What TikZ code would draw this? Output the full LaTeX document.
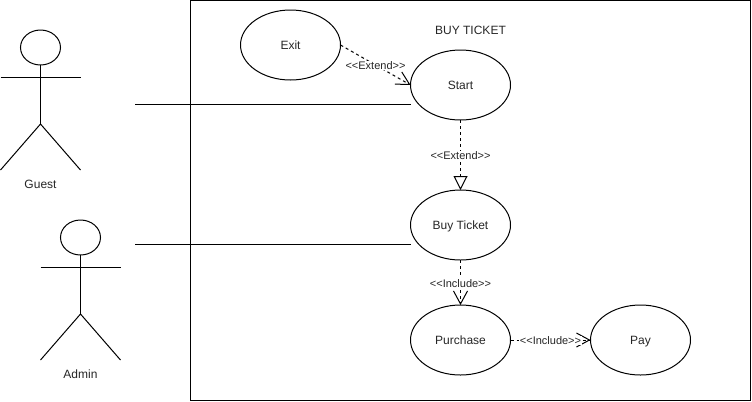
\documentclass[tikz,border=0pt]{standalone}
\usepackage{fontspec}
\setmainfont{Liberation Sans}
\usetikzlibrary{arrows.meta, positioning, shapes.geometric}

\begin{document}
\begin{tikzpicture}[
    x=0.75pt, y=-0.75pt, line width=0.75pt,
    usecase/.style={draw, ellipse, minimum width=75pt, minimum height=52.5pt, inner sep=0pt, outer sep=0pt, text height=6.5pt, text depth=0pt, text=black!85, font=\fontsize{9}{11}\selectfont},
    lbl/.style={text=black!85, font=\fontsize{9}{11}\selectfont},
    rel/.style={fill=white, inner sep=0.5pt, yshift=-0.5pt, text=black!85, font=\fontsize{8.25}{10}\selectfont},
    openarrow/.style={-{Straight Barb[length=9.75pt, width=10.5pt]}, dash pattern=on 2.25pt off 2.25pt},
    hollowarrow/.style={-{Triangle[open, length=10.5pt, width=10.5pt]}, dash pattern=on 2.25pt off 2.25pt},
    actor/.pic={
        \node[draw, ellipse, minimum width=30pt, minimum height=26.25pt, inner sep=0pt, outer sep=0pt] (-head) at (0,17.5) {};
        \coordinate (-hip) at (0,94);
        \draw (-head.south) -- (-hip);
        \draw (-40,47) -- (40,47);
        \draw (-40,140) -- (-hip) -- (40,140);
    }
]
    \useasboundingbox (0,0) rectangle (752,401);
    \draw (190.5,0.5) rectangle (750.5,400.5);
    \node[lbl] (title) at (470.5,30) {BUY TICKET};

    % use cases
    \node[usecase] (exit) at (290.5,45) {Exit};
    \node[usecase] (start) at (460.5,85) {Start};
    \node[usecase, below=52.5pt of start] (buy) {Buy Ticket};
    \node[usecase, below=33.75pt of buy] (purchase) {Purchase};
    \node[usecase, right=60pt of purchase] (pay) {Pay};

    % actors
    \pic (guest) at (40.5,30) {actor};
    \pic (admin) at (80.5,220) {actor};
    \node[lbl] (guestlbl) at (40.5,184) {Guest};
    \node[lbl] (adminlbl) at (80.5,374) {Admin};
    \coordinate (guestline) at (135,104.5);
    \coordinate (adminline) at (135,244.5);
    \draw (guestline) -- (guestline -| start.west);
    \draw (adminline) -- (adminline -| buy.west);

    % relations
    \draw[openarrow] (exit.east) -- (start.west) node[rel, midway] {<{}<Extend>{}>};
    \draw[hollowarrow] (start.south) -- (buy.north) node[rel, pos=0.5] {<{}<Extend>{}>};
    \draw[openarrow] (buy.south) -- (purchase.north) node[rel, pos=0.5] {<{}<Include>{}>};
    \draw[openarrow] (purchase.east) -- (pay.west) node[rel, pos=0.5] {<{}<Include>{}>};
\end{tikzpicture}
\end{document}
